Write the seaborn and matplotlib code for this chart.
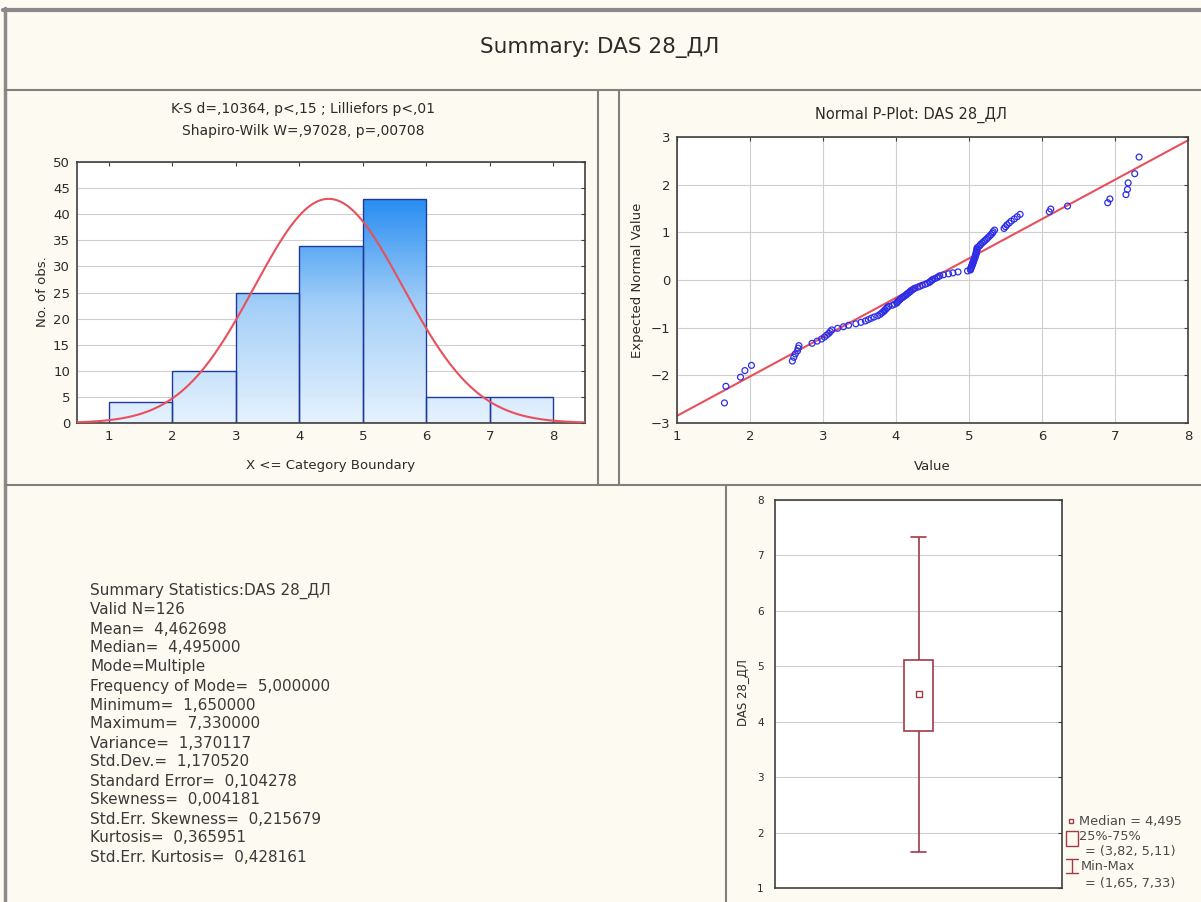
import numpy as np
import matplotlib
matplotlib.use("Agg")
import matplotlib.pyplot as plt
from matplotlib.lines import Line2D
from matplotlib.patches import Rectangle
from matplotlib.colors import LinearSegmentedColormap
import seaborn as sns
from statistics import NormalDist

# ------------------------------------------------------------------ data
variable_name = "DAS 28_ДЛ"
bin_edges = [1, 2, 3, 4, 5, 6, 7, 8]

# observations (sorted), grouped by histogram class
obs_1_2 = [1.65, 1.67, 1.87, 1.93]
obs_2_3 = [2.02, 2.58, 2.60, 2.62, 2.65, 2.66, 2.67, 2.85, 2.92, 2.98]
obs_3_4 = [3.02, 3.05, 3.08, 3.10, 3.12, 3.20, 3.28, 3.35, 3.45, 3.52, 3.58,
           3.62, 3.66, 3.70, 3.75, 3.78, 3.80, 3.82, 3.84, 3.85, 3.87, 3.88,
           3.90, 3.95, 3.98]
obs_4_5 = [4.01, 4.02, 4.03, 4.05, 4.06, 4.08, 4.10, 4.12, 4.14, 4.15, 4.17,
           4.19, 4.20, 4.22, 4.24, 4.26, 4.30, 4.33, 4.36, 4.40, 4.43, 4.46,
           4.47, 4.49, 4.50, 4.53, 4.56, 4.58, 4.60, 4.65, 4.72, 4.78, 4.85,
           4.98]
obs_5_6 = [5.02, 5.02, 5.03, 5.03, 5.04, 5.04, 5.05, 5.05, 5.06, 5.06, 5.07,
           5.07, 5.08, 5.08, 5.09, 5.09, 5.10, 5.10, 5.10, 5.11, 5.11, 5.11,
           5.13, 5.15, 5.16, 5.18, 5.20, 5.22, 5.24, 5.26, 5.28, 5.30, 5.32,
           5.33, 5.35, 5.48, 5.50, 5.52, 5.55, 5.58, 5.62, 5.66, 5.70]
obs_6_7 = [6.10, 6.12, 6.35, 6.90, 6.93]
obs_7_8 = [7.15, 7.17, 7.18, 7.27, 7.33]

mean_value = 4.462698
std_value = 1.170520

# fitted line of the normal probability plot
pplot_line_x = [1, 8]
pplot_line_y = [-2.85, 2.93]

hist_title_lines = ["K-S d=,10364, p<,15 ; Lilliefors p<,01",
                    "Shapiro-Wilk W=,97028, p=,00708"]
stats_lines = [
    "Summary Statistics:DAS 28_ДЛ",
    "Valid N=126",
    "Mean=  4,462698",
    "Median=  4,495000",
    "Mode=Multiple",
    "Frequency of Mode=  5,000000",
    "Minimum=  1,650000",
    "Maximum=  7,330000",
    "Variance=  1,370117",
    "Std.Dev.=  1,170520",
    "Standard Error=  0,104278",
    "Skewness=  0,004181",
    "Std.Err. Skewness=  0,215679",
    "Kurtosis=  0,365951",
    "Std.Err. Kurtosis=  0,428161",
]
legend_lines = ["Median = 4,495", "25%-75%", "= (3,82, 5,11)", "Min-Max",
                "= (1,65, 7,33)"]

values = obs_1_2 + obs_2_3 + obs_3_4 + obs_4_5 + obs_5_6 + obs_6_7 + obs_7_8

# ------------------------------------------------------------------ style
sns.set_style("white")
plt.rcParams["font.family"] = ["DejaVu Sans"]

BG = "#FDFAF1"
FRAME = "#808080"
TXT = "#2b2b2b"
RED = "#E8505B"
BLUE_PTS = "#2E2EE8"
BOXC = "#A23A48"
GRID = "#CFCFCF"
SPINE = "#404040"

W, H = 1201, 902
def fx(px):
    return px / W
def fy(py):
    return 1 - py / H

fig = plt.figure(figsize=(W / 100, H / 100), dpi=100, facecolor=BG)

# ------------------------------------------------------------------ panel frames
def fline(x0, y0, x1, y1, lw=1.5, color=FRAME):
    fig.add_artist(Line2D([fx(x0), fx(x1)], [fy(y0), fy(y1)], lw=lw,
                          color=color, transform=fig.transFigure))

fline(3, 10, W, 10, lw=3.0, color="#8a8a8a")
fline(5, 8, 5, H, lw=2.5, color="#8a8a8a")
fline(5, 90, W, 90)
fline(598, 90, 598, 485)
fline(619, 90, 619, 485)
fline(5, 485, W, 485)
fline(726, 485, 726, H)

fig.text(fx(600), fy(48), "Summary: " + variable_name, ha="center",
         va="center", fontsize=15.5, color=TXT)


def style_axes(ax, labelsize=9.5):
    ax.set_facecolor("white")
    for s in ax.spines.values():
        s.set_visible(True)
        s.set_color(SPINE)
        s.set_linewidth(1.2)
    ax.tick_params(direction="in", length=3, width=0.8, color=SPINE,
                   top=True, right=True, labeltop=False, labelright=False,
                   labelsize=labelsize, labelcolor=TXT, pad=5)


# ------------------------------------------------------------------ histogram
ax_h = fig.add_axes([fx(77), fy(423), (585 - 77) / W, (423 - 162) / H])
sns.histplot(x=values, bins=bin_edges, ax=ax_h, stat="count",
             color="#1585F2", edgecolor="#1F3A9E", linewidth=1.0, alpha=1.0)
cmap = LinearSegmentedColormap.from_list("bars", ["#E6F2FE", "#A4CFF8",
                                                  "#1A86F0"])
grad = np.linspace(0, 1, 256).reshape(-1, 1)
for p in list(ax_h.patches):
    x0, w = p.get_x(), p.get_width()
    im = ax_h.imshow(grad, extent=[x0, x0 + w, 0, 45], origin="lower",
                     aspect="auto", cmap=cmap, zorder=1.5)
    im.set_clip_path(p)
    p.set_facecolor("none")
    p.set_zorder(2)

xs = np.linspace(0.5, 8.5, 400)
curve = [len(values) * NormalDist(mean_value, std_value).pdf(v) for v in xs]
sns.lineplot(x=xs, y=curve, ax=ax_h, color=RED, linewidth=1.5, zorder=3)

ax_h.set_xlim(0.5, 8.5)
ax_h.set_ylim(0, 50)
ax_h.set_xticks(range(1, 9))
ax_h.set_yticks(range(0, 51, 5))
ax_h.set_xlabel("")
ax_h.set_ylabel("")
ax_h.yaxis.grid(True, color=GRID, linewidth=0.8)
ax_h.xaxis.grid(False)
ax_h.set_axisbelow(True)
style_axes(ax_h)

fig.text(fx(303), fy(109), hist_title_lines[0], ha="center", va="center",
         fontsize=10, color=TXT)
fig.text(fx(303), fy(131), hist_title_lines[1], ha="center", va="center",
         fontsize=10, color=TXT)
fig.text(fx(331), fy(466), "X <= Category Boundary", ha="center",
         va="center", fontsize=9.5, color=TXT)
fig.text(fx(42), fy(292), "No. of obs.", ha="center", va="center",
         rotation=90, fontsize=9.5, color=TXT)

# ------------------------------------------------------------------ normal P-plot
ax_p = fig.add_axes([fx(677), fy(423), (1188 - 677) / W, (423 - 137) / H])
n = len(values)
sorted_vals = sorted(values)
expected = [NormalDist().inv_cdf((r - 0.375) / (n + 0.25))
            for r in range(1, n + 1)]
sns.lineplot(x=pplot_line_x, y=pplot_line_y, ax=ax_p, color=RED,
             linewidth=1.5, zorder=2)
sns.scatterplot(x=sorted_vals, y=expected, ax=ax_p, marker="o", s=18,
                facecolor="none", edgecolor=BLUE_PTS, linewidth=0.9,
                zorder=3)
ax_p.set_xlim(1, 8)
ax_p.set_ylim(-3, 3)
ax_p.set_xticks(range(1, 9))
ax_p.set_yticks(range(-3, 4))
ax_p.grid(True, color=GRID, linewidth=0.8)
ax_p.set_axisbelow(True)
style_axes(ax_p)

fig.text(fx(911), fy(115), "Normal P-Plot: " + variable_name, ha="center",
         va="center", fontsize=10.5, color=TXT)
fig.text(fx(932), fy(466), "Value", ha="center", va="center",
         fontsize=9.5, color=TXT)
fig.text(fx(637), fy(280), "Expected Normal Value", ha="center",
         va="center", rotation=90, fontsize=9.5, color=TXT)

# ------------------------------------------------------------------ summary text
for k, line in enumerate(stats_lines):
    fig.text(fx(90), fy(591 + 19 * k), line, ha="left", va="center",
             fontsize=11.0, color="#3a3a3a")

# ------------------------------------------------------------------ box plot
ax_b = fig.add_axes([fx(775), fy(888), (1062 - 775) / W, (888 - 500) / H])
sns.boxplot(y=values, ax=ax_b, whis=(0, 100), width=0.1, color="white",
            linecolor=BOXC, linewidth=1.2, showfliers=False,
            medianprops={"linewidth": 0})
sns.scatterplot(x=[0], y=[float(np.median(values))], ax=ax_b, marker="s",
                s=14, facecolor="white", edgecolor=BOXC, linewidth=1.0,
                zorder=5)
ax_b.set_xlim(-0.5, 0.5)
ax_b.set_ylim(1, 8)
ax_b.set_yticks(range(1, 9))
ax_b.set_xticks([])
ax_b.set_ylabel("")
ax_b.yaxis.grid(True, color=GRID, linewidth=0.8)
ax_b.set_axisbelow(True)
style_axes(ax_b, labelsize=7.5)
ax_b.tick_params(axis="x", length=0)
ax_b.tick_params(axis="y", pad=8)
fig.text(fx(743), fy(693), variable_name, ha="center", va="center",
         rotation=90, fontsize=8.5, color=TXT)

# legend of the box plot
fig.add_artist(Line2D([fx(1071)], [fy(821)], marker="s", ms=3.5, mfc="white",
                      mec=BOXC, mew=1.0, transform=fig.transFigure))
fig.add_artist(Rectangle((fx(1066), fy(846)), 12 / W, 15 / H, fill=False,
                         ec=BOXC, lw=1.0, transform=fig.transFigure))
fline(1072, 859, 1072, 873, lw=1.0, color=BOXC)
fline(1066, 859, 1078, 859, lw=1.0, color=BOXC)
fline(1066, 873, 1078, 873, lw=1.0, color=BOXC)
legend_pos = [(1079, 821), (1079, 837), (1085, 851), (1081, 866), (1085, 884)]
for (lx, ly), txt in zip(legend_pos, legend_lines):
    fig.text(fx(lx), fy(ly), txt, ha="left", va="center", fontsize=9.3,
             color="#4a4a4a")

fig.savefig("out.png", dpi=100, facecolor=BG)
